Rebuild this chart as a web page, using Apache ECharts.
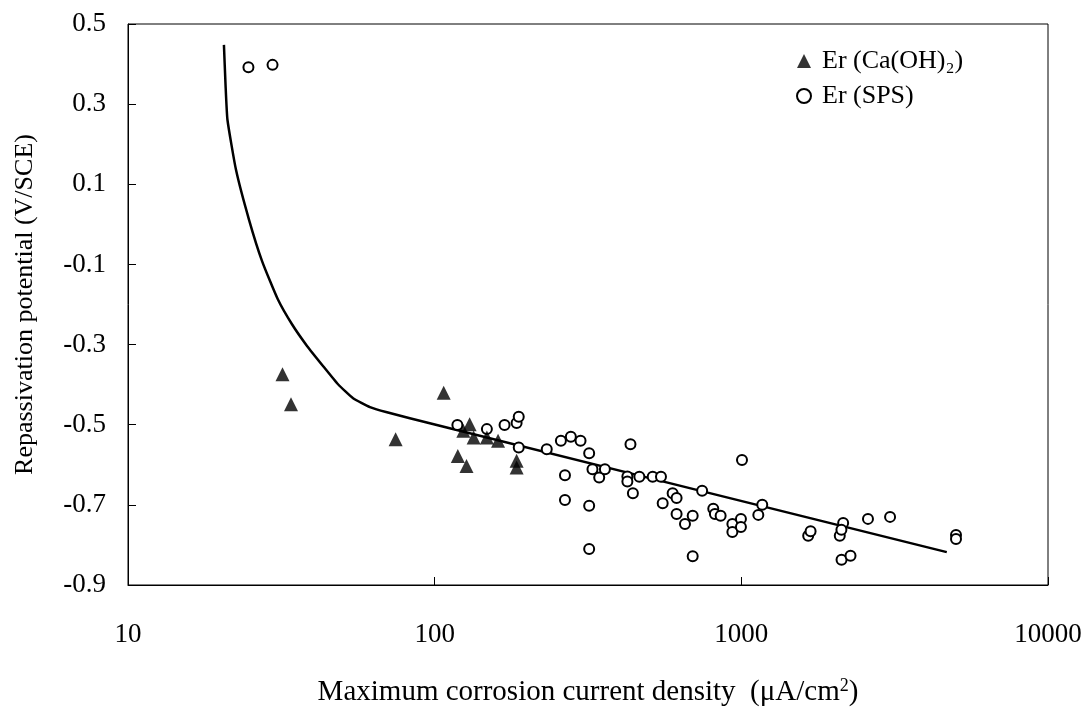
<!DOCTYPE html>
<html>
<head>
<meta charset="utf-8">
<script src="https://cdn.jsdelivr.net/npm/echarts@6/dist/echarts.min.js"></script>
<style>
  html, body { margin: 0; padding: 0; background: #fff; }
  #chart { width: 1087px; height: 715px; }
</style>
</head>
<body>
<div id="chart"></div>
<script>
// Er (Ca(OH)2) - filled triangles
var caX = [31.9, 34.0, 74.6, 107, 119, 127, 124, 130, 134, 148, 161, 185, 185];
var caY = [-0.374, -0.449, -0.536, -0.420, -0.578, -0.603, -0.515, -0.499, -0.532, -0.532, -0.540, -0.590, -0.607];

// Er (SPS) - open circles
var spsX = [24.7, 29.6, 118.6, 148, 169, 185, 188, 188, 232, 258, 278, 299, 319, 327, 266, 266, 319, 319, 344,
  359, 435, 425, 425, 465, 443, 514, 547, 554, 597, 615, 615, 655, 694, 694, 745, 810, 820, 856, 1005,
  935, 935, 997, 997, 1136, 1170, 1652, 1682, 2094, 2148, 2120, 2122, 2270, 2588, 3055, 5012, 5012];
var spsY = [0.392, 0.398, -0.501, -0.511, -0.501, -0.496, -0.480, -0.557, -0.561, -0.540, -0.530, -0.540, -0.571, -0.611, -0.626, -0.688, -0.702, -0.810, -0.632,
  -0.611, -0.549, -0.629, -0.642, -0.630, -0.671, -0.630, -0.630, -0.696, -0.671, -0.683, -0.723, -0.748, -0.727, -0.828, -0.665, -0.710, -0.723, -0.727, -0.588,
  -0.748, -0.768, -0.735, -0.755, -0.725, -0.700, -0.777, -0.766, -0.777, -0.745, -0.762, -0.837, -0.827, -0.735, -0.730, -0.775, -0.785];

// fitted curve
var fitX = [20.55, 20.8, 21.1, 22.5, 24.8, 27.4, 30.8, 34.3, 38.4, 43.3, 48.4, 54.2, 61.5, 69.9, 83.0, 112, 4677];
var fitY = [0.448, 0.348, 0.261, 0.136, 0.012, -0.093, -0.187, -0.250, -0.304, -0.354, -0.399, -0.434, -0.456, -0.469, -0.484, -0.509, -0.818];

var yTicks = [-0.9, -0.7, -0.5, -0.3, -0.1, 0.1, 0.3, 0.5];

function pairs(xs, ys) {
  var out = [];
  for (var i = 0; i < xs.length; i++) out.push([xs[i], ys[i]]);
  return out;
}

var FONT = 'Liberation Serif';
var chart = echarts.init(document.getElementById('chart'));
var option = {
  backgroundColor: '#fff',
  animation: false,
  textStyle: { fontFamily: FONT, color: '#000' },
  grid: { left: 128, right: 39, top: 24, bottom: 130, show: true, borderColor: '#000', borderWidth: 1 },
  legend: {
    orient: 'vertical',
    left: 796, top: 48,
    padding: 0,
    itemGap: 9,
    itemWidth: 14, itemHeight: 14,
    data: ['Er (Ca(OH)₂)', 'Er (SPS)'],
    textStyle: { fontFamily: FONT, fontSize: 26, color: '#000', padding: [0, 0, 0, 6] }
  },
  xAxis: {
    type: 'log',
    logBase: 10,
    min: 10, max: 10000,
    name: 'Maximum corrosion current density  (μA/cm{sup|2})',
    nameLocation: 'middle',
    nameGap: 92,
    nameTextStyle: {
      fontFamily: FONT, fontSize: 29, color: '#000',
      rich: { sup: { fontFamily: FONT, fontSize: 18, color: '#000', verticalAlign: 'top', padding: [0, 0, 12, 0] } }
    },
    axisLine: { onZero: false, lineStyle: { color: '#000', width: 1 } },
    axisTick: { inside: true, length: 8, lineStyle: { color: '#000' } },
    minorTick: { show: false },
    splitLine: { show: false },
    axisLabel: {
      fontFamily: FONT, fontSize: 27, color: '#000', margin: 36,
      formatter: function (v) { return String(Math.round(v)); }
    }
  },
  yAxis: {
    type: 'value',
    min: -0.9, max: 0.5,
    name: 'Repassivation potential (V/SCE)',
    nameLocation: 'middle',
    nameGap: 90,
    nameTextStyle: { fontFamily: FONT, fontSize: 26, color: '#000' },
    axisLine: { onZero: false, lineStyle: { color: '#000', width: 1 } },
    axisTick: { inside: true, length: 8, customValues: yTicks, lineStyle: { color: '#000' } },
    splitLine: { show: false },
    axisLabel: {
      fontFamily: FONT, fontSize: 27, color: '#000', margin: 22,
      customValues: yTicks,
      formatter: function (v) { return v.toFixed(1); }
    }
  },
  series: [
    {
      name: 'fit',
      type: 'line',
      data: pairs(fitX, fitY),
      smooth: 0.15,
      showSymbol: false,
      symbol: 'none',
      lineStyle: { color: '#000', width: 2.5, join: 'round' },
      z: 1
    },
    {
      name: 'Er (Ca(OH)₂)',
      type: 'scatter',
      symbol: 'triangle',
      symbolSize: 14,
      data: pairs(caX, caY),
      itemStyle: { color: '#000' },
      z: 3
    },
    {
      name: 'Er (SPS)',
      type: 'scatter',
      symbol: 'circle',
      symbolSize: 10,
      data: pairs(spsX, spsY),
      itemStyle: { color: '#fff', borderColor: '#000', borderWidth: 2, opacity: 1 },
      z: 2
    }
  ]
};
chart.setOption(option);
</script>
</body>
</html>
